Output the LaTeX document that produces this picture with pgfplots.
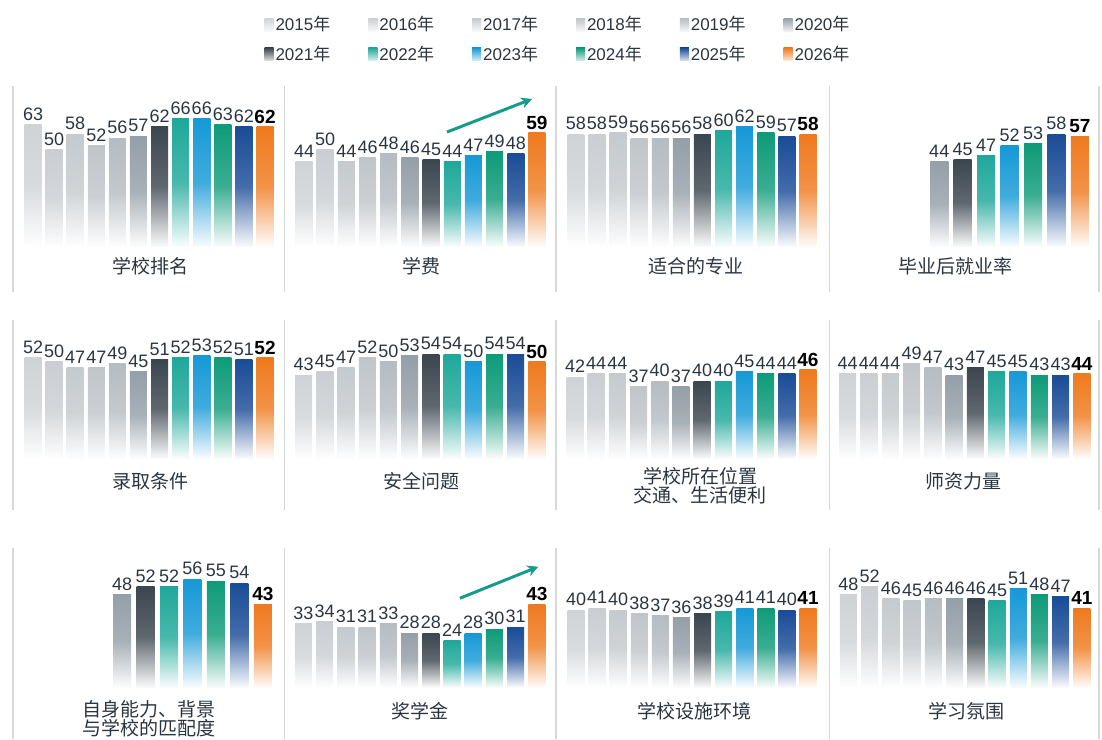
\documentclass[border=0pt]{standalone}
\usepackage{fontspec}
\setmainfont{Liberation Sans}
\newfontfamily\cjk{Noto Sans CJK SC}
\usepackage{pgfplots}
\usepackage{pgfplotstable}
\pgfplotsset{compat=1.18}
\usetikzlibrary{arrows.meta}

% colours by year, 2015 ... 2026
\definecolor{c0}{HTML}{CFD3D6}
\definecolor{c1}{HTML}{CACED2}
\definecolor{c2}{HTML}{C5CACE}
\definecolor{c3}{HTML}{C0C5CA}
\definecolor{c4}{HTML}{B5BCC2}
\definecolor{c5}{HTML}{959FA8}
\definecolor{c6}{HTML}{3C464F}
\definecolor{c7}{HTML}{1FA89A}
\definecolor{c8}{HTML}{1699D6}
\definecolor{c9}{HTML}{0E9B79}
\definecolor{c10}{HTML}{1A4C97}
\definecolor{c11}{HTML}{EF7A1E}
\definecolor{lbl}{HTML}{2A3540}
\definecolor{sep}{HTML}{D6D9DC}
\definecolor{arr}{HTML}{179C8B}

% one row per year (i = 0 is 2015), one column per panel
\pgfplotstableread{
i  p1 p2 p3 p4  p5 p6 p7 p8 p9  p10 p11 p12
0  63 44 58 nan 52 43 42 44 nan 33  40  48
1  50 50 58 nan 50 45 44 44 nan 34  41  52
2  58 44 59 nan 47 47 44 44 nan 31  40  46
3  52 46 56 nan 47 52 37 49 nan 31  38  45
4  56 48 56 nan 49 50 40 47 nan 33  37  46
5  57 46 56 44  45 53 37 43 48  28  36  46
6  62 45 58 45  51 54 40 47 52  28  38  46
7  66 44 60 47  52 54 40 45 52  24  39  45
8  66 47 62 52  53 50 45 45 56  28  41  51
9  63 49 59 53  52 54 44 43 55  30  41  48
10 62 48 57 58  51 54 44 43 54  31  40  47
11 62 59 58 57  52 50 46 44 43  43  41  41
}\data

\pgfplotsset{
  yrbase/.style={ybar, bar shift=0pt, draw=none,
    top color=#1, bottom color=#1!3!white, middle color=#1!82!white,
    nodes near coords,
    nodes near coords style={font=\fontsize{18}{18}\selectfont, text=lbl,
      anchor=south, inner sep=1pt, yshift=3pt}},
  yr0/.style={yrbase=c0}, yr1/.style={yrbase=c1}, yr2/.style={yrbase=c2},
  yr3/.style={yrbase=c3}, yr4/.style={yrbase=c4}, yr5/.style={yrbase=c5},
  yr6/.style={yrbase=c6}, yr7/.style={yrbase=c7}, yr8/.style={yrbase=c8},
  yr9/.style={yrbase=c9}, yr10/.style={yrbase=c10},
  yr11/.style={yrbase=c11,
    nodes near coords style={font=\fontsize{19}{19}\selectfont\bfseries,
      text=black, yshift=-1pt}},
  panelax/.style={scale only axis, width=271pt, height=154pt,
    anchor=south west, ymin=0, ymax=80, xmax=11.9, hide axis, clip=false,
    /pgf/number format/assume math mode=true},
}

% #1 left, #2 bottom (down from top), #3 column, #4 xmin, #5 bar width,
% #6 first year index, #7 extra
\newcommand\panel[7]{%
  \begin{axis}[panelax, at={(#1pt,-#2pt)}, xmin=#4]
  \pgfplotsinvokeforeach{#6,...,11}{%
    \addplot[yr##1, bar width=#5pt, restrict x to domain=##1:##1]
      table[x=i, y=#3] {\data};}
  #7
  \end{axis}}

\tikzset{lab/.style={font=\cjk\fontsize{19}{19}\selectfont, text=lbl,
  align=center}}

\begin{document}
\begin{tikzpicture}[x=1pt, y=1pt]
\useasboundingbox (0,0) rectangle (1102,-739);

% separators
\foreach \x in {13,284.5,556,829.5,1099} {
  \draw[sep, line width=1.5pt] (\x,-86) -- (\x,-292);
  \draw[sep, line width=1.5pt] (\x,-320) -- (\x,-510);
  \draw[sep, line width=1.5pt] (\x,-548) -- (\x,-739);
}

% legend
\begin{axis}[hide axis, scale only axis, width=10pt, height=10pt,
  at={(558pt,-39pt)}, anchor=center, xmin=0, xmax=1, ymin=0, ymax=1,
  legend columns=6, legend cell align=left,
  legend image code/.code={\path[#1] (0pt,-7pt) rectangle (9pt,6pt);},
  legend style={at={(0.5,0.5)}, anchor=center, draw=none, fill=none,
    inner sep=0pt, row sep=10pt, text=lbl, font=\fontsize{17}{17}\selectfont,
    /tikz/every even column/.append style={column sep=36pt}}]
\pgfplotsinvokeforeach{0,...,11}{%
  \addlegendimage{draw=none, top color=c#1, bottom color=c#1!15!white}}
\legend{2015{\cjk 年},2016{\cjk 年},2017{\cjk 年},2018{\cjk 年},
  2019{\cjk 年},2020{\cjk 年},2021{\cjk 年},2022{\cjk 年},
  2023{\cjk 年},2024{\cjk 年},2025{\cjk 年},2026{\cjk 年}}
\end{axis}

% row 1
\panel{13}{246}{p1}{-0.95}{17}{0}{}
\panel{285}{246}{p2}{-0.9}{17}{0}{%
  \draw[arr, line width=3pt, -{Stealth[length=11pt, width=11pt]}]
    (axis cs:6.75,59.2) -- (axis cs:10.77,76.4);}
\panel{556}{246}{p3}{-0.94}{17}{0}{}
\panel{830}{246}{p4}{0.34}{18}{5}{}
% row 2
\panel{13}{458}{p5}{-0.95}{17}{0}{}
\panel{285}{458}{p6}{-0.88}{17}{0}{}
\panel{556}{458}{p7}{-0.9}{17}{0}{}
\panel{830}{458}{p8}{-0.83}{17}{0}{}
% row 3
\panel{13}{687}{p9}{0.35}{18}{5}{}
\panel{285}{687}{p10}{-0.87}{17}{0}{%
  \draw[arr, line width=3pt, -{Stealth[length=11pt, width=11pt]}]
    (axis cs:7.37,46.1) -- (axis cs:11.07,62.5);}
\panel{556}{687}{p11}{-0.95}{17}{0}{}
\panel{830}{687}{p12}{-0.87}{17}{0}{}

% panel names
\node[lab] at (150,-266) {学校排名};
\node[lab] at (421,-266) {学费};
\node[lab] at (696,-266) {适合的专业};
\node[lab] at (955,-266) {毕业后就业率};
\node[lab] at (150,-481) {录取条件};
\node[lab] at (421,-481) {安全问题};
\node[lab] at (700,-486) {学校所在位置\\交通、生活便利};
\node[lab] at (963,-481) {师资力量};
\node[lab] at (149,-719) {自身能力、背景\\与学校的匹配度};
\node[lab] at (420,-711) {奖学金};
\node[lab] at (694,-711) {学校设施环境};
\node[lab] at (966,-711) {学习氛围};
\end{tikzpicture}
\end{document}
